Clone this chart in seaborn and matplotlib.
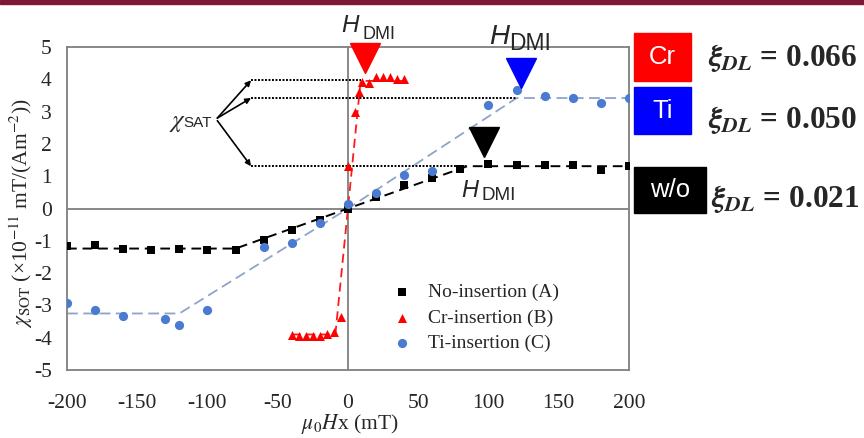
import matplotlib
matplotlib.use("Agg")
import matplotlib.pyplot as plt
import seaborn as sns
from matplotlib.patches import Rectangle

# chi_SOT (x1e-11 mT/(Am^-2)) vs mu0*Hx (mT)
no_x = [-200, -180, -160, -140, -120, -100, -80, -60, -40, -20, 0,
        20, 40, 60, 80, 100, 120, 140, 160, 180, 200]
no_y = [-1.17, -1.14, -1.26, -1.28, -1.25, -1.27, -1.30, -0.98, -0.68, -0.36, 0.0,
        0.36, 0.72, 0.93, 1.22, 1.39, 1.34, 1.34, 1.34, 1.19, 1.32]
cr_x = [-40, -35, -30, -25, -20, -15, -10, -5, 0, 5, 8, 10, 15, 20, 25, 30, 35, 40]
cr_y = [-3.92, -3.96, -3.94, -3.94, -3.94, -3.89, -3.82, -3.36, 1.32, 2.99,
        3.60, 3.92, 3.89, 4.07, 4.07, 4.07, 4.02, 4.02]
ti_x = [-200, -180, -160, -130, -120, -100, -60, -40, -20, 0,
        20, 40, 60, 100, 120, 140, 160, 180, 200]
ti_y = [-2.94, -3.13, -3.32, -3.43, -3.61, -3.15, -1.19, -1.06, -0.46, 0.15,
        0.48, 1.03, 1.16, 3.20, 3.66, 3.48, 3.41, 3.27, 3.43]

# piecewise fits (dashed)
no_fit_x = [-200, -80, 0, 85, 200]
no_fit_y = [-1.24, -1.24, 0, 1.31, 1.31]
cr_fit_x = [-40, -9, 9, 40]
cr_fit_y = [-3.9, -3.9, 3.95, 3.95]
ti_fit_x = [-200, -120, 0, 120, 200]
ti_fit_y = [-3.25, -3.25, 0, 3.42, 3.42]

# saturation levels and H_DMI
sat_y = [3.97, 3.42, 1.31]
sat_xend = [9, 120, 85]
hdmi_x = [12, 123, 97]
hdmi_y = [4.66, 4.19, 2.05]

samples = ["Cr", "Ti", "w/o"]
xi_dl = ["0.066", "0.050", "0.021"]

sns.set_style("white")
plt.rcParams["font.family"] = ["Liberation Serif", "DejaVu Serif"]
plt.rcParams["axes.unicode_minus"] = False

fig = plt.figure(figsize=(8.64, 4.38), dpi=100)
ax = fig.add_axes([67 / 864, 68 / 438, 562 / 864, 323 / 438])

ax.axhline(0, color="#7f7f7f", lw=1.3, zorder=1)
ax.axvline(0, color="#7f7f7f", lw=1.3, zorder=1)

sns.lineplot(x=no_fit_x, y=no_fit_y, ax=ax, color="black", lw=1.4,
             linestyle=(0, (5, 3)), estimator=None, sort=False, legend=False, zorder=2)
sns.lineplot(x=ti_fit_x, y=ti_fit_y, ax=ax, color="#8ea4c8", lw=1.3,
             linestyle=(0, (6, 3)), estimator=None, sort=False, legend=False, zorder=2)
sns.lineplot(x=cr_fit_x, y=cr_fit_y, ax=ax, color="#ff1a1a", lw=1.3,
             linestyle=(0, (5, 3)), estimator=None, sort=False, legend=False, zorder=2)

for yv, xe in zip(sat_y, sat_xend):
    ax.plot([-69, xe], [yv, yv], color="black", lw=1.4, linestyle=(0, (1, 0.8)), zorder=2)

sns.scatterplot(x=no_x, y=no_y, ax=ax, marker="s", color="black", s=36,
                linewidth=0, label="No-insertion (A)", zorder=4)
sns.scatterplot(x=cr_x, y=cr_y, ax=ax, marker="^", color="#ff0000", s=42,
                linewidth=0, label="Cr-insertion (B)", zorder=4)
sns.scatterplot(x=ti_x, y=ti_y, ax=ax, marker="o", color="#4a7bd0", s=44,
                linewidth=0, label="Ti-insertion (C)", zorder=4)

ax.set_xlim(-200, 200)
ax.set_ylim(-5, 5)
ax.set_xticks(range(-200, 201, 50))
ax.set_yticks(range(-5, 6))
ax.tick_params(axis="x", length=0, pad=17, labelsize=15.5)
ax.tick_params(axis="y", length=0, pad=11, labelsize=15.5)
for sp in ax.spines.values():
    sp.set_color("#7f7f7f")
    sp.set_linewidth(1.3)
ax.set_xlabel("")
ax.set_ylabel("")

leg = ax.legend(loc="center left", bbox_to_anchor=(0.578, 0.161), frameon=False,
                fontsize=14, handlelength=1.0, handletextpad=0.85,
                labelspacing=0.4, borderpad=0, borderaxespad=0)

# H_DMI markers
for xv, yv, c in zip(hdmi_x, hdmi_y, ["#ff0000", "#0000ff", "black"]):
    ax.plot(xv, yv, marker="v", ms=22, color=c, mec=c, clip_on=False, zorder=5)


def two_part(x, y, big, small, big_size, small_size, dx, dy, big_style, family):
    ax.text(x, y, big, fontsize=big_size, style=big_style, family=family,
            va="baseline", ha="left", clip_on=False, zorder=6)
    ax.annotate(small, xy=(x, y), xytext=(dx, dy), textcoords="offset points",
                fontsize=small_size, family=family, va="baseline", ha="left",
                annotation_clip=False, zorder=6)


sans = ["Liberation Sans", "DejaVu Sans"]
two_part(-4.5, 5.47, "H", "DMI", 17.5, 13, 15.3, -5.5, "italic", sans)
two_part(100.4, 5.09, "H", "DMI", 20, 16.5, 14.6, -4.3, "italic", sans)
two_part(80.9, 0.36, "H", "DMI", 17, 13.6, 14.4, -2.4, "italic", sans)

# chi_SAT annotation
ax.text(-127.5, 2.51, r"$\chi$", fontsize=18, math_fontfamily="stix",
        va="baseline", ha="left")
ax.annotate("SAT", xy=(-127.5, 2.51), xytext=(10.5, 0), textcoords="offset points",
            fontsize=11, family=sans, va="baseline", ha="left")
for yv in sat_y:
    ax.annotate("", xy=(-69, yv), xytext=(-93, 2.8 if yv > 2 else 2.72),
                arrowprops=dict(arrowstyle="-|>", color="black", lw=1.2,
                                mutation_scale=8, shrinkA=0, shrinkB=0))

# axis labels
fig.text(21 / 864, 1 - 213 / 438,
         r"$\chi_{\mathrm{SOT}}$ (×10$^{\mathrm{-11}}$ mT/(Am$^{\mathrm{-2}}$))",
         rotation=90, ha="center", va="center", fontsize=15.5, math_fontfamily="stix")
fig.text(350 / 864, 9 / 438, r"$\mu_0H$x (mT)", ha="center", va="baseline",
         fontsize=15.5, math_fontfamily="stix")

# sample boxes + xi_DL values
box_cols = ["#ff0000", "#0000ff", "black"]
box_top = [33, 87, 167]
box_h = [48, 47, 46]
box_w = [57, 57, 72]
xi_base = [66, 128, 207]
xi_left = [708, 708, 711]
for name, val, bc, bt, bh, bw, yb, xl in zip(samples, xi_dl, box_cols, box_top,
                                             box_h, box_w, xi_base, xi_left):
    fig.patches.append(Rectangle((634 / 864, 1 - (bt + bh) / 438), bw / 864, bh / 438,
                                 transform=fig.transFigure, color=bc))
    fig.text((634 + bw / 2) / 864, 1 - (bt + bh / 2) / 438, name, color="white",
             family=sans, fontsize=18.5, ha="center", va="center")
    fig.text(xl / 864, 1 - yb / 438,
             r"$\mathbfit{\xi}_{\mathbfit{DL}}$" + " = " + val,
             fontsize=22.5, fontweight="bold", va="baseline", ha="left",
             math_fontfamily="stix")

# thin maroon band at top
fig.patches.append(Rectangle((0, 1 - 3.5 / 438), 1, 3.5 / 438,
                             transform=fig.transFigure, color="#7d1935"))

fig.savefig("out.png", dpi=100)
